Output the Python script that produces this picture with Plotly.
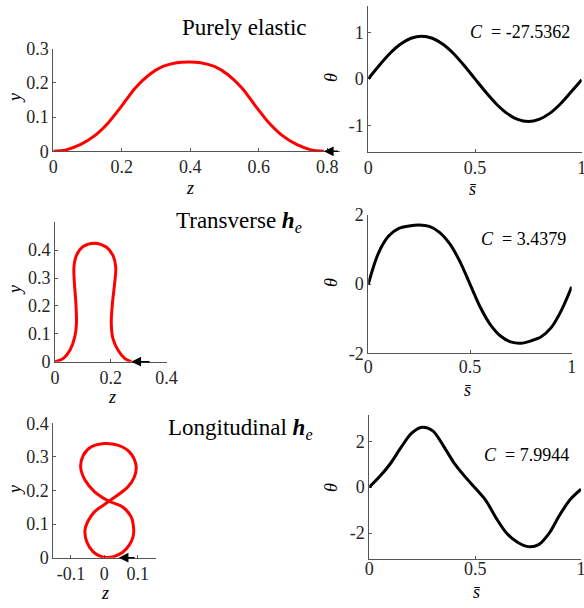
import plotly.graph_objects as go
import math

W, H = 584, 608

# ---------------- data ----------------
# Purely elastic: shape y(z)
elastic_z = [0, 0.04, 0.08, 0.12, 0.16, 0.20, 0.24, 0.28, 0.32, 0.36, 0.395,
             0.43, 0.47, 0.51, 0.55, 0.59, 0.63, 0.67, 0.71, 0.75, 0.79]
elastic_y = [0, 0.005, 0.020, 0.045, 0.083, 0.133, 0.186, 0.224, 0.248, 0.259, 0.261,
             0.259, 0.248, 0.224, 0.186, 0.133, 0.083, 0.045, 0.020, 0.005, 0]
# theta(s) for the three cases
s_vals = [0, 0.05, 0.10, 0.15, 0.20, 0.25, 0.30, 0.35, 0.40, 0.45, 0.50,
          0.55, 0.60, 0.65, 0.70, 0.75, 0.80, 0.85, 0.90, 0.95, 1.0]
theta_elastic = [0, 0.284, 0.541, 0.744, 0.875, 0.92, 0.875, 0.744, 0.541, 0.284, 0,
                 -0.284, -0.541, -0.744, -0.875, -0.92, -0.875, -0.744, -0.541, -0.284, -0.02]
theta_trans = [0, 0.90, 1.39, 1.61, 1.68, 1.71, 1.67, 1.50, 1.17, 0.66, 0,
               -0.66, -1.17, -1.50, -1.67, -1.71, -1.64, -1.52, -1.25, -0.75, -0.08]
theta_long = [0, 0.47, 1.03, 1.73, 2.35, 2.61, 2.45, 1.80, 1.06, 0.48, -0.04,
              -0.58, -1.36, -2.02, -2.40, -2.59, -2.50, -2.00, -1.20, -0.53, -0.09]
# Transverse h_e: shape
trans_z = [0, 0.03, 0.054, 0.071, 0.077, 0.075, 0.069, 0.068, 0.077, 0.101, 0.143,
           0.184, 0.208, 0.218, 0.214, 0.206, 0.202, 0.208, 0.226, 0.25, 0.274]
trans_y = [0, 0.012, 0.042, 0.089, 0.137, 0.208, 0.292, 0.339, 0.381, 0.413, 0.425,
           0.411, 0.381, 0.339, 0.28, 0.208, 0.137, 0.083, 0.042, 0.012, 0]
# Longitudinal h_e: shape (figure eight)
long_z = [0, 0.03, 0.055, 0.075, 0.086, 0.088, 0.08, 0.055, 0.014, -0.029, -0.058, -0.071,
          -0.063, -0.039, 0.001, 0.04, 0.075, 0.095, 0.09, 0.07, 0.014, -0.029, -0.05,
          -0.058, -0.053, -0.034, -0.009, 0.011, 0.035]
long_y = [0, 0.004, 0.016, 0.038, 0.062, 0.085, 0.122, 0.151, 0.168, 0.196, 0.231, 0.27,
          0.305, 0.33, 0.34, 0.335, 0.315, 0.275, 0.24, 0.21, 0.168, 0.137, 0.107,
          0.082, 0.048, 0.018, 0.003, 0, 0]
C_labels = ["-27.5362", "3.4379", "7.9944"]
titles = ["Purely elastic", "Transverse <b><i>h</i></b><i><sub>e</sub></i>",
          "Longitudinal <b><i>h</i></b><i><sub>e</sub></i>"]
arrow_tail_z = [0.835, 0.345, 0.095]

# ---------------- layout helpers ----------------
def xdom(p0, p1):
    return [p0 / W, p1 / W]

def ydom(top, bottom):
    return [1 - bottom / H, 1 - top / H]

FONT = "Liberation Serif"
TXT = "#262626"
AX = "#555555"

def axis_style(dom, rng, tickvals, ticktext, anchor, standoff=0):
    return dict(domain=dom, range=rng, tickvals=tickvals, ticktext=ticktext,
                showline=True, linecolor=AX, linewidth=1, ticks="inside",
                ticklen=3, tickcolor=AX, showgrid=False, zeroline=False,
                tickfont=dict(family=FONT, size=18, color=TXT), anchor=anchor,
                fixedrange=True, layer="below traces", automargin=False,
                ticklabeloverflow="allow", ticklabelstandoff=standoff)

fig = go.Figure()
red = dict(color="#ff0000", width=3, shape="spline", smoothing=0.9)
blk = dict(color="#000000", width=3, shape="spline", smoothing=0.9)

fig.add_trace(go.Scatter(x=elastic_z, y=elastic_y, mode="lines", line=red, xaxis="x", yaxis="y"))
fig.add_trace(go.Scatter(x=s_vals, y=theta_elastic, mode="lines", line=blk, xaxis="x2", yaxis="y2"))
fig.add_trace(go.Scatter(x=trans_z, y=trans_y, mode="lines", line=red, xaxis="x3", yaxis="y3"))
fig.add_trace(go.Scatter(x=s_vals, y=theta_trans, mode="lines", line=blk, xaxis="x4", yaxis="y4"))
fig.add_trace(go.Scatter(x=long_z, y=long_y, mode="lines", line=red, xaxis="x5", yaxis="y5"))
fig.add_trace(go.Scatter(x=s_vals, y=theta_long, mode="lines", line=blk, xaxis="x6", yaxis="y6"))

pi = math.pi
fig.update_layout(
    width=W, height=H, margin=dict(l=0, r=0, t=0, b=0, autoexpand=False),
    plot_bgcolor="white", paper_bgcolor="white", showlegend=False,
    xaxis=axis_style(xdom(53.3, 340), [0, 0.837], [0, 0.2, 0.4, 0.6, 0.8],
                     ["0", "0.2", "0.4", "0.6", "0.8"], "y", -1),
    yaxis=axis_style(ydom(48.7, 151.3), [0, 0.3], [0, 0.1, 0.2, 0.3],
                     ["0", "0.1", "0.2", "0.3"], "x"),
    xaxis2=axis_style(xdom(368.3, 581.7), [0, 1], [0, 0.5, 1], ["0", "0.5", "1"], "y2"),
    yaxis2=axis_style(ydom(6, 151.7), [-pi / 2, pi / 2], [-1, 0, 1], ["-1", "0", "1"], "x2"),
    xaxis3=axis_style(xdom(55, 167), [0, 0.402], [0, 0.2, 0.4], ["0", "0.2", "0.4"], "y3"),
    yaxis3=axis_style(ydom(221.7, 361.7), [0, 0.502], [0, 0.1, 0.2, 0.3, 0.4],
                      ["0", "0.1", "0.2", "0.3", "0.4"], "x3"),
    xaxis4=axis_style(xdom(368.3, 571.7), [0, 1], [0, 0.5, 1], ["0", "0.5", "1"], "y4", -3),
    yaxis4=axis_style(ydom(215, 353.3), [-2, 2], [-2, 0, 2], ["-2", "0", "2"], "x4"),
    xaxis5=axis_style(xdom(53.3, 155.7), [-0.153, 0.154], [-0.1, 0, 0.1],
                      ["-0.1", "0", "0.1"], "y5"),
    yaxis5=axis_style(ydom(423.3, 557.7), [0, 0.4], [0, 0.1, 0.2, 0.3, 0.4],
                      ["0", "0.1", "0.2", "0.3", "0.4"], "x5"),
    xaxis6=axis_style(xdom(369.3, 581), [0, 1], [0, 0.5, 1], ["0", "0.5", "1"], "y6", -7),
    yaxis6=axis_style(ydom(415, 559.3), [-pi, pi], [-2, 0, 2], ["-2", "0", "2"], "x6"),
)

ann = []

def txt(text, px, py, size=18, angle=0, xanchor="center"):
    ann.append(dict(text=text, x=px / W, y=1 - py / H, xref="paper", yref="paper",
                    showarrow=False, textangle=angle, xanchor=xanchor, yanchor="middle",
                    font=dict(family=FONT, size=size, color="#000000")))

# titles
txt(titles[0], 244, 28, size=23)
txt(titles[1], 239, 222, size=23)
txt(titles[2], 240, 429, size=23)
# C values
EQ = "&nbsp;&nbsp;=&nbsp;"
txt("<i>C</i>" + EQ + C_labels[0], 520, 32)
txt("<i>C</i>" + EQ + C_labels[1], 523, 239)
txt("<i>C</i>" + EQ + C_labels[2], 526, 455)
# axis labels
for py in (98, 290, 490):
    txt("<i>y</i>", 15, py, angle=-90)
for px, py in ((190, 188), (112, 397), (105, 593)):
    txt("<i>z</i>", px, py)
for py in (78, 283, 488):
    txt("<i>θ</i>", 331, py, angle=-90)
for px, py in ((473, 189), (468, 390), (477, 592)):
    txt("<i>s̄</i>", px, py)

# arrows at curve ends
ends = [(elastic_z[-1], elastic_y[-1], "x", "y"),
        (trans_z[-1], trans_y[-1], "x3", "y3"),
        (long_z[-1] + 0.008, long_y[-1], "x5", "y5")]
for (ez, ey, xr, yr), tail in zip(ends, arrow_tail_z):
    ann.append(dict(x=ez, y=ey, ax=tail, ay=ey, xref=xr, yref=yr, axref=xr, ayref=yr,
                    showarrow=True, arrowhead=2, arrowsize=1.3, arrowwidth=1.5,
                    arrowcolor="#000000", text=""))

fig.update_layout(annotations=ann)
fig.write_html("out.html", config={"displayModeBar": False},
               post_script="document.body.style.margin='0';document.body.style.overflow='hidden';")
